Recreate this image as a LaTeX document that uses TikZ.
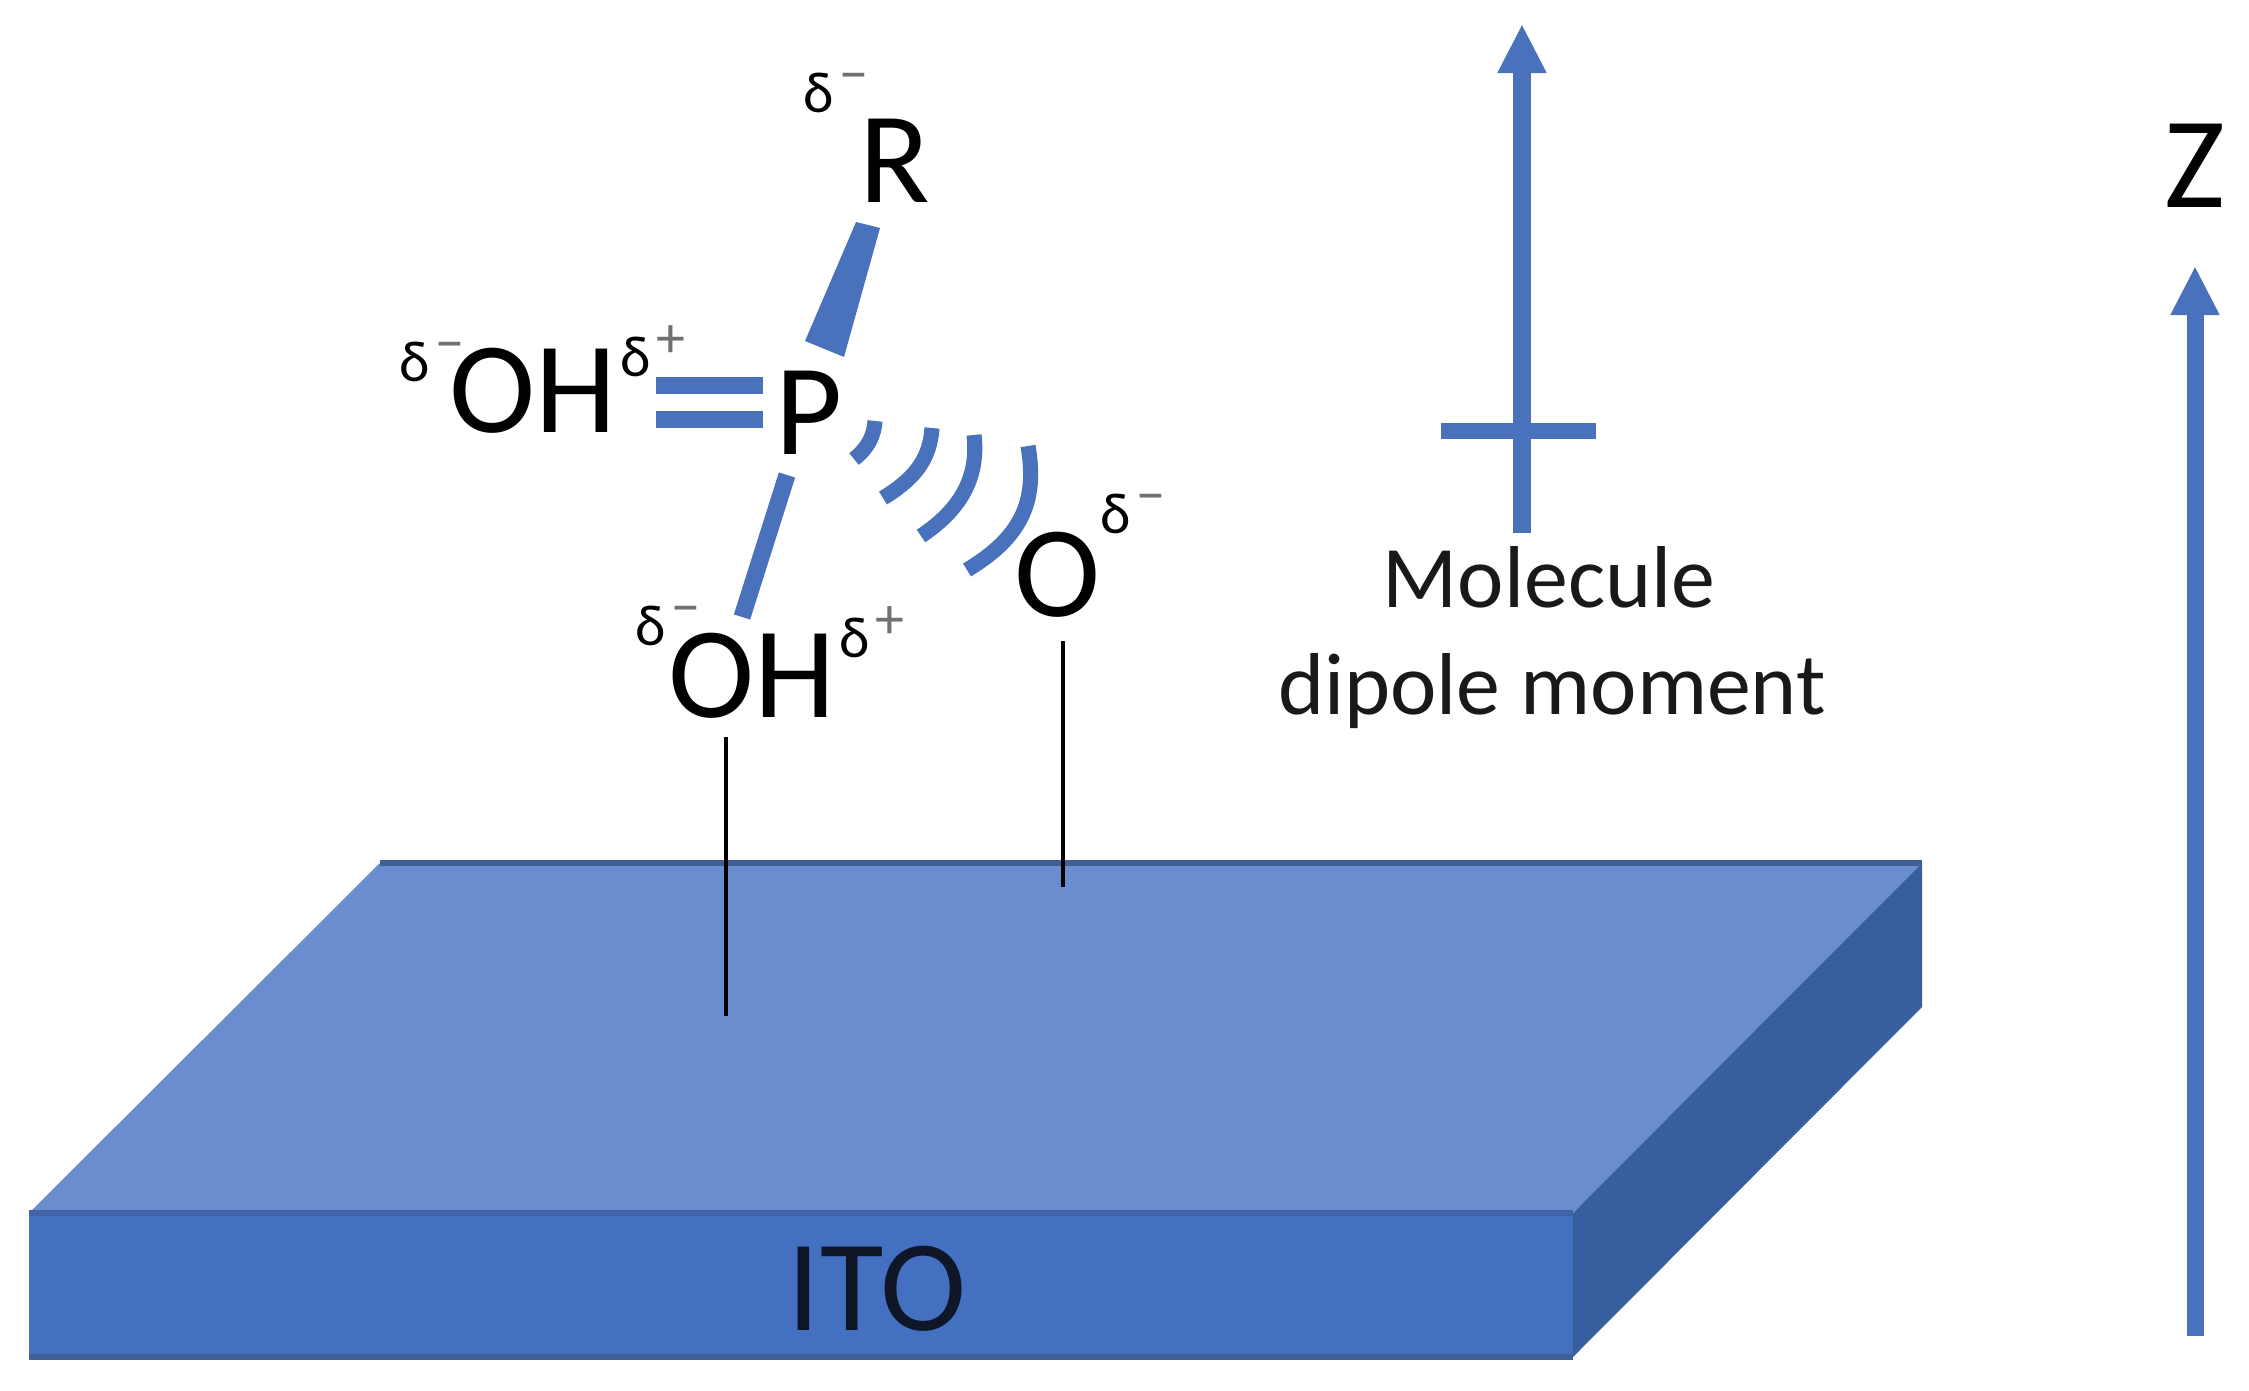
\documentclass[tikz,border=0pt]{standalone}
\usepackage{fontspec}
\setmainfont{Carlito}
\usetikzlibrary{arrows.meta}
\definecolor{bondblue}{HTML}{4A72BC}
\definecolor{slabtop}{HTML}{6A8DCF}
\definecolor{slabfront}{HTML}{4470C2}
\definecolor{slabside}{HTML}{375F9F}
\definecolor{slabedge}{HTML}{3F5F95}
\definecolor{slabmid}{HTML}{3F63A6}
\definecolor{signgray}{HTML}{707070}
\newcommand{\dminus}{δ\hspace{.1em}\raisebox{.33em}{\textcolor{signgray}{−}}}
\newcommand{\dplus}{δ\hspace{.1em}\raisebox{.33em}{\textcolor{signgray}{+}}}
\tikzset{
  atom/.style={inner sep=0pt,anchor=base,text=black,font=\fontsize{74}{74}\selectfont},
  charge/.style={inner sep=0pt,anchor=base west,text=black,font=\fontsize{33}{33}\selectfont},
  caption/.style={inner sep=0pt,anchor=base,text=black!90,font=\fontsize{50}{50}\selectfont},
  bond/.style={draw=bondblue,line width=9.7pt},
  dashbond/.style={draw=bondblue,line width=8.6pt},
  tether/.style={draw=black,line width=2pt},
  axisarrow/.style={draw=bondblue,line width=9.7pt,-{Triangle[width=26pt,length=28pt]}},
}
\begin{document}
\begin{tikzpicture}[x=0.02cm,y=-0.02cm]
\useasboundingbox (0,0) rectangle (2249,1391);
% slab
\coordinate (bl) at (380,863);
\coordinate (br) at (1922,863);
\coordinate (fl) at (29,1213);
\coordinate (fr) at (1573,1213);
\coordinate (dl) at (29,1357);
\coordinate (dr) at (1573,1357);
\coordinate (sr) at (1922,1007);
\fill[slabtop] (bl) -- (br) -- (fr) -- (fl) -- cycle;
\fill[slabfront] (fl) -- (fr) -- (dr) -- (dl) -- cycle;
\fill[slabside] (br) -- (sr) -- (dr) -- (fr) -- cycle;
\draw[slabedge,line width=3pt] (bl) -- (br);
\draw[slabmid,line width=3.4pt] (fl) -- (fr);
\draw[slabedge,line width=3pt] (dl) -- (dr);
\node[inner sep=0pt,anchor=base,text=black!80!slabfront,font=\fontsize{74}{74}\selectfont] (ito) at (877,1330) {ITO};
% atoms
\node[atom] (R) at (895,203) {R};
\node[atom] (P) at (809,455) {P};
\node[atom] (oh1) at (533,433) {OH};
\node[atom] (oh2) at (752,718) {OH};
\node[atom] (O) at (1058,617) {O};
% charges
\node[charge] (c1) at (803,113) {\dminus};
\node[charge] (c2) at (399,382) {\dminus};
\node[charge] (c3) at (620,377) {\dplus};
\node[charge] (c4) at (635,646) {\dminus};
\node[charge] (c5) at (839,658) {\dplus};
\node[charge] (c6) at (1100,534) {\dminus};
% bonds
\coordinate (wa) at (856,222);
\coordinate (wb) at (880,228);
\coordinate (wc) at (844,357);
\coordinate (wd) at (805,341);
\fill[bondblue] (wa) -- (wb) -- (wc) -- (wd) -- cycle;
\coordinate (d1a) at (656,385.5);
\coordinate (d1b) at (763,385.5);
\coordinate (d2a) at (656,419.5);
\coordinate (d2b) at (763,419.5);
\draw[bond] (d1a) -- (d1b);
\draw[bond] (d2a) -- (d2b);
\coordinate (s1) at (787,475);
\coordinate (s2) at (742,617);
\draw[bond] (s1) -- (s2);
\draw[dashbond] (875,421) .. controls (874,436) and (868,448) .. (854,459);
\draw[dashbond] (932,428) .. controls (930,458) and (916,478) .. (883,498);
\draw[dashbond] (974,435) .. controls (979,478) and (960,510) .. (921,536);
\draw[dashbond] (1028,446) .. controls (1038,503) and (1020,538) .. (967,570);
% tethers
\coordinate (t1a) at (726,737);
\coordinate (t1b) at (726,1016);
\coordinate (t2a) at (1063,641);
\coordinate (t2b) at (1063,887);
\draw[tether] (t1a) -- (t1b);
\draw[tether] (t2a) -- (t2b);
% dipole arrow
\coordinate (m1) at (1522,533);
\coordinate (m2) at (1522,24);
\coordinate (x1) at (1441,431);
\coordinate (x2) at (1596,431);
\draw[axisarrow] (m1) -- (m2);
\draw[bondblue,line width=9.4pt] (x1) -- (x2);
\node[caption] (mol) at (1549,608) {Molecule};
\node[caption] (dip) at (1552,715) {dipole moment};
% z axis
\coordinate (z1) at (2195,1336);
\coordinate (z2) at (2195,266);
\draw[axisarrow] (z1) -- (z2);
\node[atom] (Z) at (2195,208) {Z};
\end{tikzpicture}
\end{document}
